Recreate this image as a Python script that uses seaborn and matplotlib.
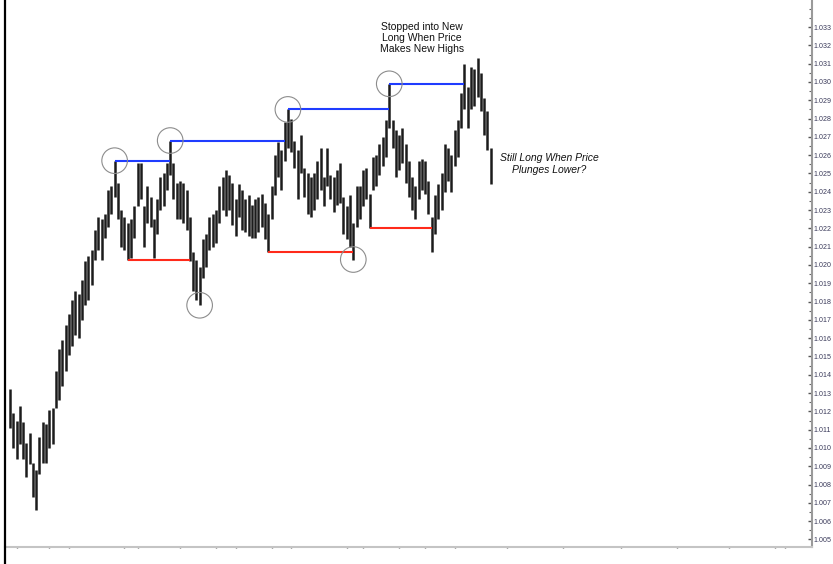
import matplotlib
matplotlib.use("Agg")
import matplotlib.pyplot as plt
from matplotlib.lines import Line2D
from matplotlib.ticker import MultipleLocator, FormatStrFormatter
import seaborn as sns

# ==============================
# DATA
# ==============================

highs = [
    1.0132, 1.0119, 1.0115, 1.0123, 1.0114, 1.0103, 1.0108, 1.0092, 1.0088, 1.0106,
    1.0114, 1.0113, 1.0121, 1.0122, 1.0142, 1.0154, 1.0159, 1.0167, 1.0173, 1.0181,
    1.0186, 1.0184, 1.0192, 1.0202, 1.0205, 1.0208, 1.0219, 1.0226, 1.0225, 1.0228,
    1.0241, 1.0243, 1.0257, 1.0245, 1.0230, 1.0226, 1.0223, 1.0225, 1.0232, 1.0256,
    1.0256, 1.0232, 1.0243, 1.0237, 1.0225, 1.0236, 1.0248, 1.0250, 1.0256, 1.0268,
    1.0256, 1.0245, 1.0246, 1.0245, 1.0241, 1.0226, 1.0207, 1.0203, 1.0199, 1.0214,
    1.0217, 1.0226, 1.0228, 1.0230, 1.0243, 1.0248, 1.0252, 1.0249, 1.0245, 1.0236,
    1.0244, 1.0241, 1.0236, 1.0238, 1.0233, 1.0236, 1.0237, 1.0239, 1.0234, 1.0228,
    1.0243, 1.0260, 1.0267, 1.0263, 1.0278, 1.0285, 1.0280, 1.0268, 1.0263, 1.0271,
    1.0253, 1.0250, 1.0248, 1.0250, 1.0257, 1.0264, 1.0248, 1.0264, 1.0249, 1.0248,
    1.0252, 1.0256, 1.0237, 1.0232, 1.0238, 1.0223, 1.0243, 1.0243, 1.0252, 1.0253,
    1.0239, 1.0259, 1.0260, 1.0266, 1.0270, 1.0279, 1.0299, 1.0279, 1.0274, 1.0271,
    1.0275, 1.0266, 1.0257, 1.0248, 1.0243, 1.0257, 1.0258, 1.0257, 1.0246, 1.0226,
    1.0238, 1.0244, 1.0250, 1.0266, 1.0264, 1.0260, 1.0274, 1.0279, 1.0294, 1.0310,
    1.0297, 1.0308, 1.0307, 1.0313, 1.0305, 1.0291, 1.0284, 1.0264,
]

lows = [
    1.0111, 1.0100, 1.0094, 1.0102, 1.0094, 1.0084, 1.0091, 1.0073, 1.0066, 1.0086,
    1.0092, 1.0092, 1.0100, 1.0102, 1.0122, 1.0126, 1.0134, 1.0142, 1.0151, 1.0156,
    1.0162, 1.0160, 1.0170, 1.0178, 1.0181, 1.0189, 1.0203, 1.0208, 1.0203, 1.0215,
    1.0221, 1.0228, 1.0237, 1.0225, 1.0210, 1.0208, 1.0203, 1.0204, 1.0215, 1.0232,
    1.0236, 1.0210, 1.0223, 1.0221, 1.0204, 1.0217, 1.0230, 1.0232, 1.0241, 1.0249,
    1.0236, 1.0225, 1.0225, 1.0223, 1.0219, 1.0202, 1.0186, 1.0181, 1.0178, 1.0193,
    1.0199, 1.0208, 1.0210, 1.0212, 1.0223, 1.0230, 1.0227, 1.0230, 1.0222, 1.0216,
    1.0226, 1.0219, 1.0218, 1.0216, 1.0215, 1.0215, 1.0218, 1.0221, 1.0214, 1.0207,
    1.0225, 1.0238, 1.0248, 1.0241, 1.0257, 1.0264, 1.0262, 1.0253, 1.0236, 1.0250,
    1.0237, 1.0228, 1.0226, 1.0230, 1.0236, 1.0241, 1.0232, 1.0243, 1.0236, 1.0229,
    1.0233, 1.0234, 1.0217, 1.0214, 1.0210, 1.0203, 1.0221, 1.0225, 1.0232, 1.0236,
    1.0220, 1.0241, 1.0243, 1.0249, 1.0254, 1.0259, 1.0275, 1.0264, 1.0248, 1.0252,
    1.0256, 1.0245, 1.0237, 1.0230, 1.0225, 1.0236, 1.0241, 1.0239, 1.0228, 1.0207,
    1.0217, 1.0225, 1.0230, 1.0240, 1.0246, 1.0240, 1.0254, 1.0259, 1.0275, 1.0285,
    1.0275, 1.0285, 1.0287, 1.0292, 1.0284, 1.0271, 1.0263, 1.0244,
]

# swing highs / lows that are circled
peak_bars = [32, 49, 85, 116]
trough_bars = [58, 105]

# breakout lines: (start bar, end bar)
high_breaks = [(32, 49), (49, 84), (85, 116), (116, 139)]
low_breaks = [(36, 55), (79, 105), (110, 129)]

# date ticks on the bottom axis (bar numbers)
date_ticks = [2, 12, 18, 35, 39, 52, 63, 69, 80, 86, 103, 108, 119, 127,
              136, 152, 169, 187, 204, 220, 234, 237]

price_ticks = [1.005 + 0.001 * k for k in range(29)]

# ==============================
# PLOT
# ==============================

sns.set_theme(style="white")
plt.rcParams["font.family"] = ["Liberation Sans Narrow", "Liberation Sans", "DejaVu Sans"]

fig = plt.figure(figsize=(8.33, 5.64), dpi=100)
ax = fig.add_axes([5 / 833, 17 / 564, 807 / 833, 547 / 564])

bars = list(range(len(highs)))
ax.vlines(bars, lows, highs, color="#1c1c1c", linewidth=1.8)

for start, end in high_breaks:
    ax.hlines(highs[start], start, end, color="#1f3cff", linewidth=1.5, zorder=3)
for start, end in low_breaks:
    ax.hlines(lows[start], start, end, color="#ff2a1a", linewidth=1.5, zorder=3)

sns.scatterplot(x=peak_bars, y=[highs[i] for i in peak_bars], ax=ax,
                s=340, marker="o", facecolor="none", edgecolor="#8c8c8c",
                linewidth=0.8, zorder=4)
sns.scatterplot(x=trough_bars, y=[lows[i] for i in trough_bars], ax=ax,
                s=340, marker="o", facecolor="none", edgecolor="#8c8c8c",
                linewidth=0.8, zorder=4)

ax.text(126, 1.0333, "Stopped into New\nLong When Price\nMakes New Highs",
        ha="center", va="top", fontsize=7.5, color="#111111", linespacing=1.15)
ax.text(165, 1.0261, "Still Long When Price\nPlunges Lower?",
        ha="center", va="top", fontsize=7.5, color="#111111",
        style="italic", linespacing=1.15)

ax.set_xlim(-1.53, 245.3)
ax.set_ylim(1.00459, 1.03448)

# right price axis
ax.yaxis.tick_right()
ax.set_yticks(price_ticks)
ax.yaxis.set_major_formatter(FormatStrFormatter("%.3f"))
ax.yaxis.set_minor_locator(MultipleLocator(0.0005))
ax.tick_params(axis="y", which="major", direction="in", length=3, width=1,
               color="#555555", labelsize=5.1, labelcolor="#3a3a5a", pad=0.8,
               right=True, left=False)
ax.tick_params(axis="y", which="minor", direction="in", length=2, width=0.8,
               color="#666666", right=True, left=False)

# bottom date axis
ax.set_xticks(date_ticks)
ax.set_xticklabels([])
ax.tick_params(axis="x", which="major", direction="inout", length=2, width=1,
               color="#555555", bottom=True)

for side in ["left", "top"]:
    ax.spines[side].set_visible(False)
ax.spines["bottom"].set_color("#c4c4c4")
ax.spines["bottom"].set_linewidth(1.5)
ax.spines["right"].set_color("#9a9a9a")
ax.spines["right"].set_linewidth(1.5)
ax.set_xlabel("")
ax.set_ylabel("")
ax.grid(False)

# window frame on the left edge
fig.add_artist(Line2D([5 / 833, 5 / 833], [0, 1], transform=fig.transFigure,
                      color="black", linewidth=1.6))

plt.savefig("out.png", dpi=100)
